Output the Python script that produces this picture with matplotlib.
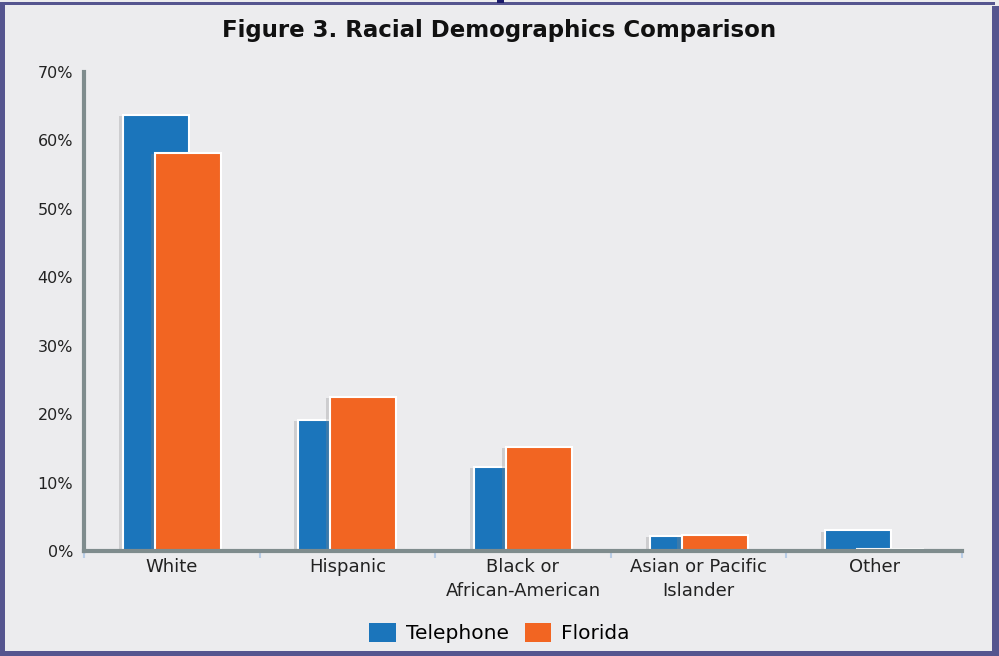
import matplotlib.pyplot as plt
import matplotlib.patheffects as pe
from matplotlib.patches import Rectangle
import numpy as np

# Share of respondents by race, telephone sample vs. Florida population
categories = ["White", "Hispanic", "Black or\nAfrican-American",
              "Asian or Pacific\nIslander", "Other"]
telephone = [63.7, 19.2, 12.3, 2.2, 3.0]
florida = [58.2, 22.5, 15.2, 2.3, 0.3]
yticks = [0, 10, 20, 30, 40, 50, 60, 70]

BLUE = "#1b75bb"
ORANGE = "#f26522"
BG = "#ececee"
FRAME = "#55558f"
AXIS = "#7f8c8d"

plt.rcParams['font.family'] = ['DejaVu Sans']

W, H = 999, 656
fig = plt.figure(figsize=(W / 100, H / 100), dpi=100, facecolor=BG)

# page frame around the chart
def frameRect(x0, y0, x1, y1, color=FRAME):
    fig.patches.append(Rectangle((x0 / W, 1 - y1 / H), (x1 - x0) / W,
                                 (y1 - y0) / H, transform=fig.transFigure,
                                 facecolor=color, edgecolor='none', zorder=0))

frameRect(0, 2, 995, 5)
frameRect(0, 2, 5, 656)
frameRect(0, 651, 999, 656)
frameRect(992, 6, 999, 656)
frameRect(497, 0, 504, 3, color="#1a1a6a")

ax = fig.add_axes([84 / W, 1 - 551 / H, (962 - 84) / W, (551 - 72) / H])
ax.set_facecolor(BG)

x = np.arange(len(categories))
width = 0.375
offset = 0.091

telBars = ax.bar(x - offset, telephone, width, color=BLUE, edgecolor='white',
                 linewidth=1.5, label="Telephone", zorder=2)
flaBars = ax.bar(x + offset, florida, width, color=ORANGE, edgecolor='white',
                 linewidth=1.5, label="Florida", zorder=3)

leg = fig.legend(loc='center', bbox_to_anchor=(0.5, 1 - 633 / H), ncol=2,
                 frameon=False, fontsize=14.5, handlelength=1.3,
                 handleheight=1.1, handletextpad=0.5, columnspacing=0.8)
for handle in leg.legend_handles:
    handle.set_edgecolor('none')

# soft drop shadow on the bars only (added after the legend is built)
shadow = [pe.SimplePatchShadow(offset=(-3, -1), shadow_rgbFace='#888888',
                               alpha=0.3), pe.Normal()]
for bar in list(telBars) + list(flaBars):
    bar.set_path_effects(shadow)

ax.set_xlim(-0.5, len(categories) - 0.5)
ax.set_ylim(0, 70)
ax.set_yticks(yticks)
ax.set_yticklabels([f"{v}%" for v in yticks], fontsize=11.5, color='#222222')
ax.tick_params(axis='y', length=0, pad=8)

# category labels centred, small ticks at the boundaries between groups
ax.set_xticks(x)
ax.set_xticklabels(categories, fontsize=13, color='#222222',
                   linespacing=1.4)
ax.tick_params(axis='x', which='major', length=0, pad=5)
ax.set_xticks(np.arange(len(categories) + 1) - 0.5, minor=True)
ax.tick_params(axis='x', which='minor', length=5, width=1.5,
               color='#b9cde6', direction='out')

for side in ('top', 'right'):
    ax.spines[side].set_visible(False)
for side in ('left', 'bottom'):
    ax.spines[side].set_color(AXIS)
    ax.spines[side].set_linewidth(3)
    ax.spines[side].set_zorder(4)

fig.text(0.5, 1 - 30 / H, "Figure 3. Racial Demographics Comparison",
         ha='center', va='center', fontsize=16.5, fontweight='bold',
         color='#111111')

fig.savefig("out.png", dpi=100, facecolor=BG)
